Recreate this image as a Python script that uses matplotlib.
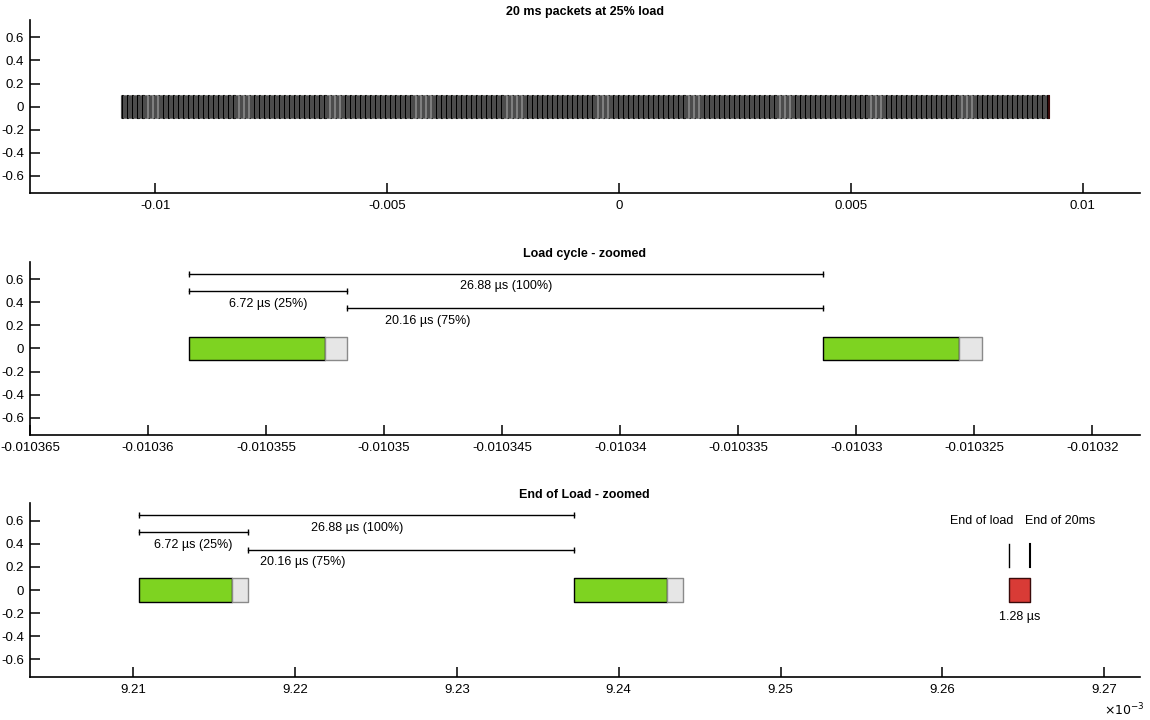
import numpy as np
import matplotlib.pyplot as plt
from matplotlib.ticker import FixedLocator, FuncFormatter

plt.rcParams['font.family'] = ['Liberation Sans', 'DejaVu Sans']

# timing of the 20 ms frame, seconds / microseconds
t_start = -0.0107346      # first load slot
cycle_us = 26.88          # one load cycle (100%)
load_us = 6.72            # load part of the cycle (25%)
packet_us = 5.76          # green packet inside the load slot
n_cycles = 744
tail_us = 1.28            # what is left at the end of the 20 ms
frame_s = 0.02
zoom_cycles = [14, 742]   # cycles annotated in the two zoomed panels

titles = ['20 ms packets at 25% load', 'Load cycle - zoomed', 'End of Load - zoomed']
xlims = [(-0.0127, 0.01123), (-0.010365, -0.010318), (9.2036e-3, 9.2722e-3)]
xticks = [[-0.01, -0.005, 0, 0.005, 0.01],
          [-0.010365, -0.01036, -0.010355, -0.01035, -0.010345, -0.01034,
           -0.010335, -0.01033, -0.010325, -0.01032],
          [9.21e-3, 9.22e-3, 9.23e-3, 9.24e-3, 9.25e-3, 9.26e-3, 9.27e-3]]
yticks = [-0.6, -0.4, -0.2, 0, 0.2, 0.4, 0.6]

us = 1e-6
starts = t_start + np.arange(n_cycles) * cycle_us * us
tail_start = t_start + n_cycles * cycle_us * us
t_end = t_start + frame_s

green = '#7ED321'
grey = '#E6E6E6'
red = '#D93B36'

fig = plt.figure(figsize=(11.5, 7.2), dpi=100)
boxes = [[0.026, 0.732, 0.965, 0.240],
         [0.026, 0.396, 0.965, 0.240],
         [0.026, 0.060, 0.965, 0.241]]
axes = [fig.add_axes(b) for b in boxes]

for i, ax in enumerate(axes):
    # thinner outlines in the full view, where all 744 cycles are packed together
    lw_green = 0.8 if i == 0 else 1.0
    lw_grey = 0.4 if i == 0 else 1.0
    ax.broken_barh([(s, packet_us * us) for s in starts], (-0.1, 0.2),
                   facecolors=green, edgecolors='black', linewidth=lw_green)
    ax.broken_barh([(s + packet_us * us, (load_us - packet_us) * us) for s in starts],
                   (-0.1, 0.2), facecolors=grey, edgecolors='#8a8a8a', linewidth=lw_grey)
    ax.broken_barh([(tail_start, tail_us * us)], (-0.1, 0.2),
                   facecolors=red, edgecolors='#3a0a0a', linewidth=lw_green)

    ax.set_xlim(*xlims[i])
    ax.set_ylim(-0.75, 0.75)
    ax.xaxis.set_major_locator(FixedLocator(xticks[i]))
    ax.yaxis.set_major_locator(FixedLocator(yticks))
    if i == 2:
        ax.xaxis.set_major_formatter(FuncFormatter(lambda v, p: '%g' % round(v * 1e3, 6)))
    else:
        ax.xaxis.set_major_formatter(FuncFormatter(lambda v, p: '%g' % round(v, 9)))
    ax.yaxis.set_major_formatter(FuncFormatter(lambda v, p: '%g' % round(v, 3)))
    for side in ['top', 'right']:
        ax.spines[side].set_visible(False)
    for side in ['left', 'bottom']:
        ax.spines[side].set_linewidth(1.2)
    ax.tick_params(axis='x', direction='in', length=7, width=1.1, pad=5, labelsize=9.5)
    ax.tick_params(axis='y', direction='in', length=7, width=1.1, pad=4, labelsize=9.5)
    ax.set_title(titles[i], fontsize=9, fontweight='bold', pad=4)


def span(ax, x0, x1, y, label, tx):
    ax.plot([x0, x1], [y, y], color='black', lw=1)
    ax.plot([x0, x1], [y, y], linestyle='none', marker='|', color='black', ms=4, mew=1)
    ax.text(tx, y - 0.11, label, ha='center', va='center', fontsize=9)


for ax, k in zip(axes[1:], zoom_cycles):
    c0 = starts[k]
    c_load = c0 + load_us * us
    c1 = c0 + cycle_us * us
    span(ax, c0, c1, 0.65, '26.88 µs (100%)', (c0 + c1) / 2)
    span(ax, c0, c_load, 0.5, '6.72 µs (25%)', (c0 + c_load) / 2)
    span(ax, c_load, c1, 0.35, '20.16 µs (75%)', c_load + 3.4 * us)

ax = axes[2]
ax.plot([tail_start, tail_start], [0.2, 0.4], color='black', lw=1)
ax.plot([t_end, t_end], [0.2, 0.4], color='black', lw=1.5)
ax.text(tail_start + 0.3 * us, 0.6, 'End of load', ha='right', va='center', fontsize=9)
ax.text(t_end - 0.3 * us, 0.6, 'End of 20ms', ha='left', va='center', fontsize=9)
ax.text((tail_start + t_end) / 2, -0.235, '1.28 µs', ha='center', va='center', fontsize=9)
fig.text(1124 / 1150, 1 - 710 / 720, r'$\times10^{-3}$', ha='center', va='center', fontsize=9)

fig.savefig('out.png', dpi=100)
